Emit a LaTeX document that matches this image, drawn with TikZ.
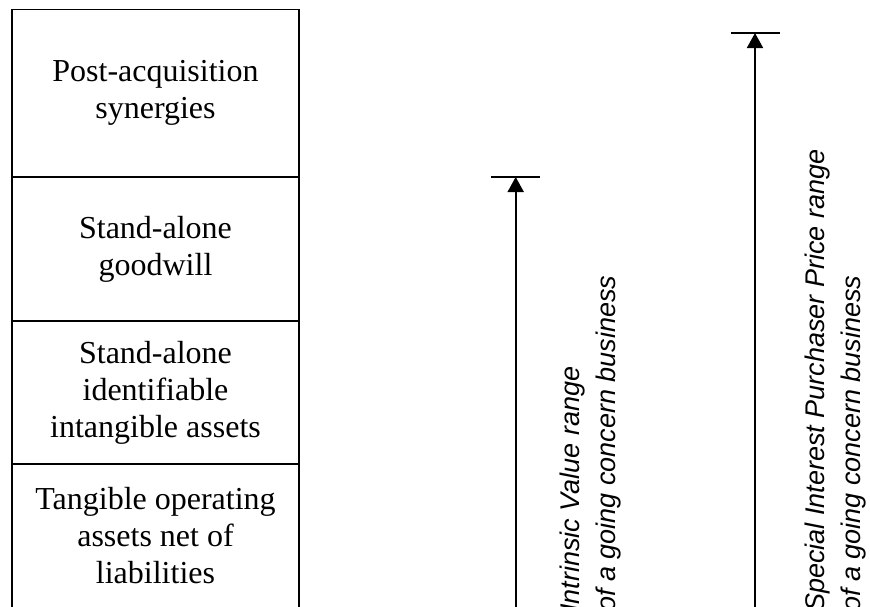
\documentclass[tikz,border=0pt]{standalone}
\usepackage{fontspec}
\setmainfont{Liberation Serif}
\newfontfamily\arialfont{Liberation Sans}
\usetikzlibrary{arrows.meta}
\begin{document}
\begin{tikzpicture}[x=1pt,y=-1pt,
  sect/.style={draw, line width=1.8pt, minimum width=287pt, inner sep=0pt, align=center,
    font=\fontsize{32}{37}\selectfont},
  rng/.style={-{Triangle[width=16pt,length=15pt]}, line width=1.8pt},
  capline/.style={line width=1.5pt},
  lbl/.style={rotate=90, anchor=west, inner sep=0pt, align=left,
    font=\arialfont\itshape\fontsize{27}{36}\selectfont}]
\useasboundingbox (0,0) rectangle (870,606);
\clip (0,0) rectangle (870,606);
% stacked box
\node[sect, minimum height=167.5pt] (s1) at (155.5,93.25) {Post-acquisition\\synergies};
\node[sect, minimum height=144pt] (s2) at (155.5,249) {Stand-alone\\goodwill};
\node[sect, minimum height=143pt] (s3) at (155.5,392.5) {Stand-alone\\identifiable\\intangible assets};
\node[sect, minimum height=144pt] (s4) at (155.5,536) {Tangible operating\\assets net of\\liabilities};
% intrinsic value range
\coordinate (a1b) at (515.7,625);
\coordinate (a1t) at (515.7,177);
\coordinate (c1l) at (491,177);
\coordinate (c1r) at (540,177);
\draw[rng] (a1b) -- (a1t);
\draw[capline] (c1l) -- (c1r);
\node[lbl] (l1) at (591,612) {Intrinsic Value range\\of a going concern business};
% special interest purchaser range
\coordinate (a2b) at (755,625);
\coordinate (a2t) at (755,33);
\coordinate (c2l) at (731,33);
\coordinate (c2r) at (780,33);
\draw[rng] (a2b) -- (a2t);
\draw[capline] (c2l) -- (c2r);
\node[lbl] (l2) at (836,612) {Special Interest Purchaser Price range\\of a going concern business};
\end{tikzpicture}
\end{document}
